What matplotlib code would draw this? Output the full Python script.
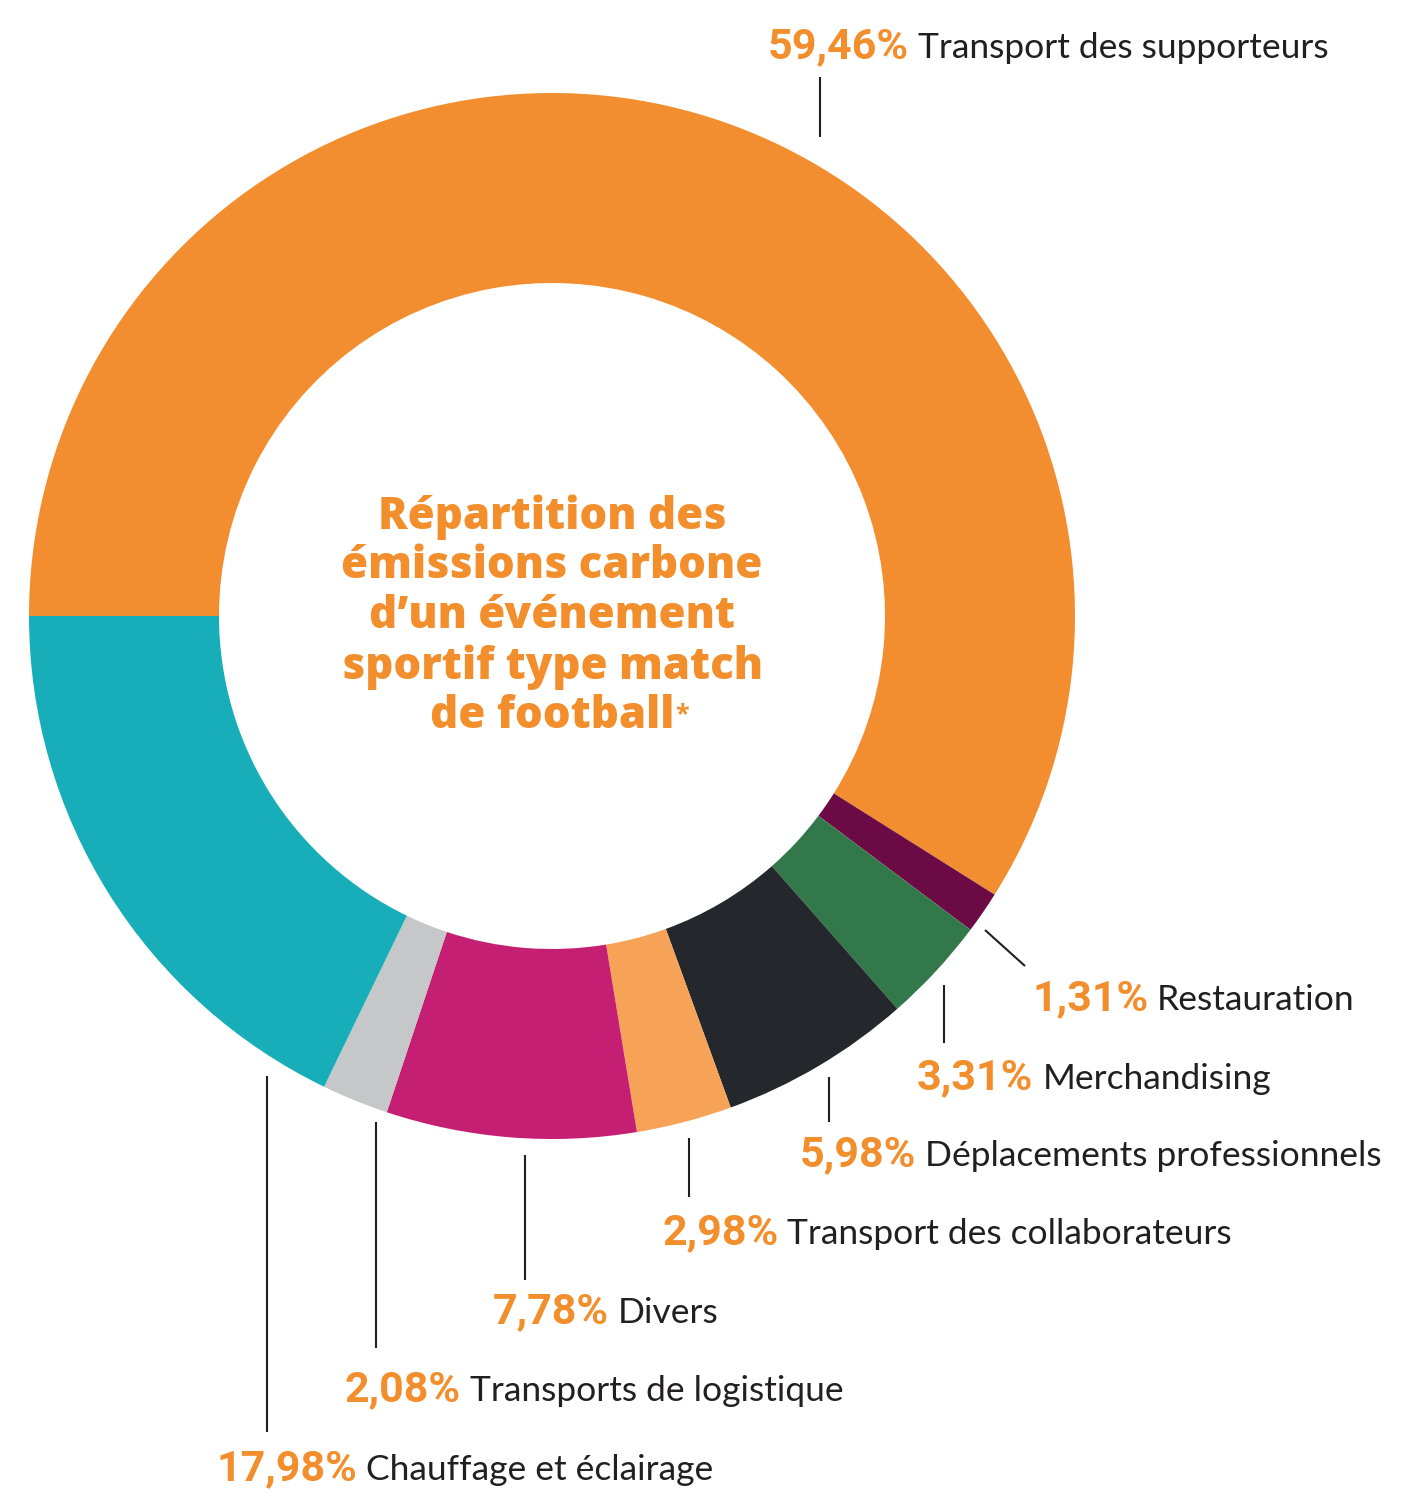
import matplotlib
matplotlib.use("Agg")
import matplotlib.pyplot as plt

# ---------------- data ----------------
categories = ["Transport des supporteurs", "Restauration", "Merchandising",
              "Déplacements professionnels", "Transport des collaborateurs",
              "Divers", "Transports de logistique", "Chauffage et éclairage"]
values = [59.46, 1.31, 3.31, 5.98, 2.98, 7.78, 2.08, 17.98]
pct_labels = ["59,46%", "1,31%", "3,31%", "5,98%", "2,98%", "7,78%", "2,08%", "17,98%"]
title_lines = ["Répartition des", "émissions carbone", "d’un événement",
               "sportif type match", "de football"]

# ---------------- styles / layout ----------------
colors = ["#F28E30", "#6B0A45", "#33784A", "#24272B", "#F6A257",
          "#C41F73", "#C6C7C8", "#18AEB9"]
ORANGE = "#F28E2B"
DARK = "#231F20"
W, H = 1424, 1508
CX, CY, R_OUT, R_IN = 552, 616, 523, 333

# label anchors (pixel coords from top-left): x of text start, baseline y
label_pos = [(768, 58), (1032, 1010), (917, 1089), (800, 1166),
             (662, 1244), (493, 1323), (345, 1401), (216, 1480)]
# leader lines (pixel coords from top-left)
leaders = [((820, 77), (820, 137)), ((985, 930), (1025, 966)),
           ((944, 985), (944, 1043)), ((829, 1077), (829, 1122)),
           ((689, 1138), (689, 1197)), ((525, 1155), (525, 1280)),
           ((376, 1122), (376, 1348)), ((267, 1076), (267, 1432))]

fig = plt.figure(figsize=(W / 100, H / 100), dpi=100)
ax = fig.add_axes([0, 0, 1, 1])

def Y(y):
    return H - y

ax.pie(values, colors=colors, startangle=180, counterclock=False,
       center=(CX, Y(CY)), radius=R_OUT,
       wedgeprops=dict(width=R_OUT - R_IN, linewidth=0, antialiased=True))
ax.set_xlim(0, W)
ax.set_ylim(0, H)
ax.set_aspect("equal")
ax.axis("off")

# leader lines
for (p0, p1) in leaders:
    ax.plot([p0[0], p1[0]], [Y(p0[1]), Y(p1[1])], color=DARK, lw=1.5,
            solid_capstyle="butt")

# labels
renderer = fig.canvas.get_renderer()
for (x, y), pct, cat in zip(label_pos, pct_labels, categories):
    t = ax.text(x, Y(y), pct, color=ORANGE, fontsize=31, fontweight="bold",
                family="Roboto", va="baseline", ha="left")
    bb = t.get_window_extent(renderer=renderer)
    ax.text(bb.x1 + 9, Y(y), cat, color=DARK, fontsize=25.5,
            family="Lato", va="baseline", ha="left")

# centre title
line_ys = [517, 567, 617, 667, 717]
last = None
for ln, ly in zip(title_lines, line_ys):
    last = ax.text(CX, Y(ly), ln, color=ORANGE, fontsize=31.5, fontweight=800,
                   family="Open Sans", ha="center", va="center")
bb = last.get_window_extent(renderer=renderer)
ax.text(bb.x1 + 1, bb.y1 - 8, "*", color=ORANGE, fontsize=18, fontweight="bold",
        family="Open Sans", ha="left", va="top")

fig.savefig("out.png", dpi=100, facecolor="white")
